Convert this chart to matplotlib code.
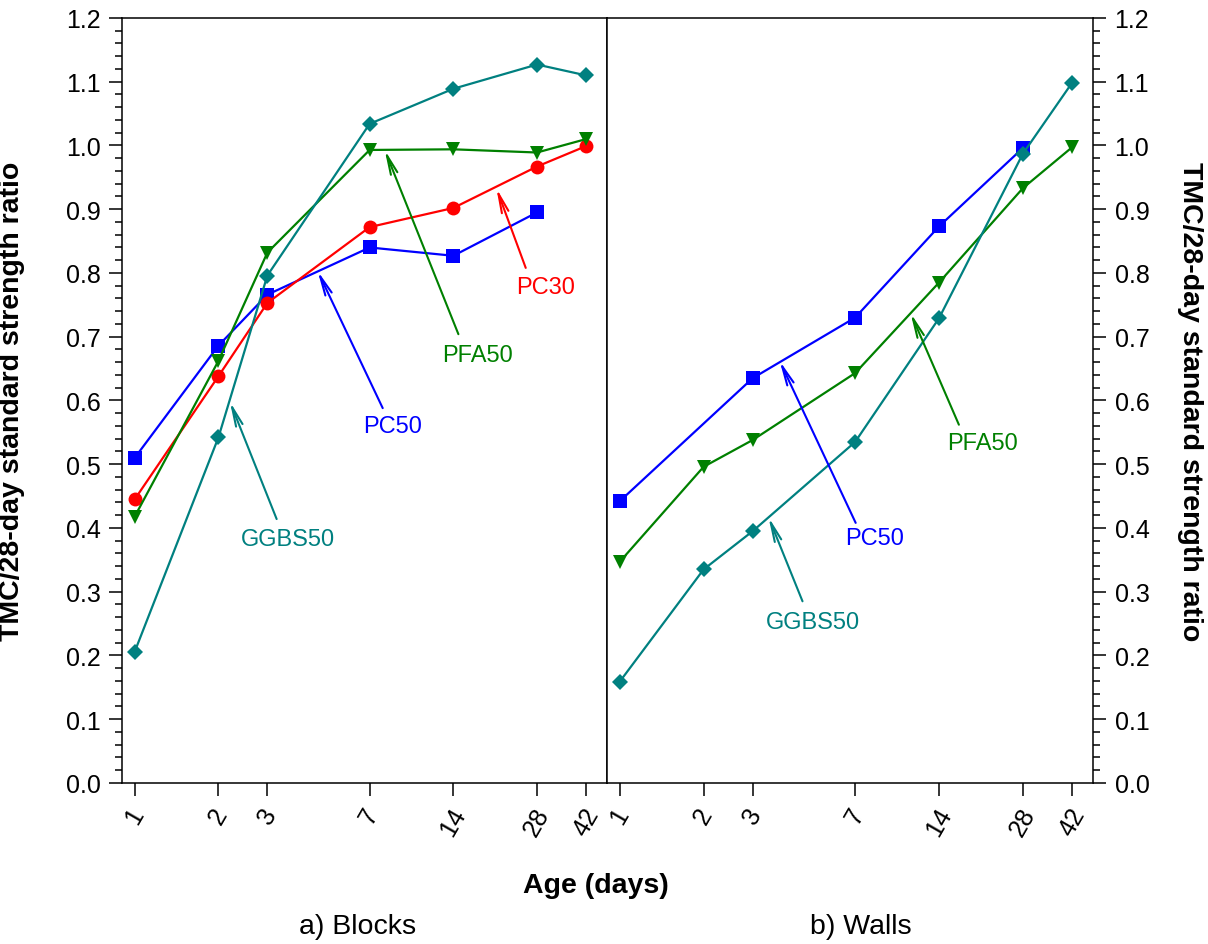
import numpy as np
import matplotlib
matplotlib.use('Agg')
import matplotlib.pyplot as plt
from matplotlib.ticker import FixedLocator, MultipleLocator, NullLocator

plt.rcParams['font.family'] = ['Liberation Sans', 'DejaVu Sans']
plt.rcParams['axes.linewidth'] = 1.1

days = [1, 2, 3, 7, 14, 28, 42]
day_labels = ['1', '2', '3', '7', '14', '28', '42']

# a) Blocks
blk_pc50_x = [1, 2, 3, 7, 14, 28]
blk_pc50 = [0.510, 0.686, 0.766, 0.840, 0.827, 0.895]
blk_pc30 = [0.445, 0.638, 0.753, 0.872, 0.902, 0.967, 0.999]
blk_pfa50 = [0.418, 0.662, 0.832, 0.993, 0.994, 0.989, 1.010]
blk_ggbs50 = [0.206, 0.542, 0.796, 1.034, 1.089, 1.127, 1.110]

# b) Walls
wal_pc50_x = [1, 3, 7, 14, 28]
wal_pc50 = [0.442, 0.635, 0.730, 0.873, 0.996]
wal_pfa50 = [0.347, 0.496, 0.538, 0.643, 0.785, 0.933, 0.997]
wal_ggbs50 = [0.159, 0.335, 0.395, 0.535, 0.729, 0.987, 1.098]

c_pc50 = '#0000ff'
c_pc30 = '#ff0000'
c_pfa = '#008000'
c_ggbs = '#008080'

fig = plt.figure(figsize=(12.08, 9.45), dpi=100)
ax1 = fig.add_axes([0.101, 0.1704, 0.4015, 0.8095])
ax2 = fig.add_axes([0.5025, 0.1704, 0.4023, 0.8095])

kw = dict(linewidth=1.6, markeredgewidth=0)
ax1.plot(blk_pc50_x, blk_pc50, color=c_pc50, marker='s', markersize=9.5, **kw)
ax1.plot(days, blk_pc30, color=c_pc30, marker='o', markersize=10, **kw)
ax1.plot(days, blk_pfa50, color=c_pfa, marker='v', markersize=10.5, **kw)
ax1.plot(days, blk_ggbs50, color=c_ggbs, marker='D', markersize=8.5, **kw)

ax2.plot(wal_pc50_x, wal_pc50, color=c_pc50, marker='s', markersize=9.5, **kw)
ax2.plot(days, wal_pfa50, color=c_pfa, marker='v', markersize=10.5, **kw)
ax2.plot(days, wal_ggbs50, color=c_ggbs, marker='D', markersize=8.5, **kw)

# label text, text pos, arrow tail, arrow tip, colour
notes1 = [('PC30', (30.0, 0.778), (25.5, 0.808), (20.0, 0.933), c_pc30),
          ('PFA50', (17.1, 0.671), (14.6, 0.704), (7.93, 0.993), c_pfa),
          ('PC50', (8.47, 0.560), (7.80, 0.588), (4.55, 0.803), c_pc50),
          ('GGBS50', (3.55, 0.383), (3.24, 0.414), (2.20, 0.598), c_ggbs)]
notes2 = [('PC50', (8.22, 0.384), (7.03, 0.408), (3.75, 0.662), c_pc50),
          ('PFA50', (20.1, 0.533), (16.5, 0.562), (11.07, 0.737), c_pfa),
          ('GGBS50', (4.92, 0.253), (4.53, 0.285), (3.42, 0.417), c_ggbs)]

for ax, notes in ((ax1, notes1), (ax2, notes2)):
    for txt, tpos, tail, tip, c in notes:
        ax.text(tpos[0], tpos[1], txt, color=c, fontsize=17, ha='center', va='center')
        ax.annotate('', xy=tip, xytext=tail,
                    arrowprops=dict(arrowstyle='->,head_length=1.4,head_width=0.25',
                                    color=c, lw=1.5, shrinkA=0, shrinkB=0))

for ax in (ax1, ax2):
    ax.set_xscale('log')
    ax.set_xlim(0.9, 50)
    ax.set_ylim(0, 1.2)
    ax.xaxis.set_major_locator(FixedLocator(days))
    ax.xaxis.set_minor_locator(NullLocator())
    ax.set_xticklabels(day_labels, rotation=60, ha='center', va='top', fontsize=18)
    ax.yaxis.set_minor_locator(MultipleLocator(0.02))
    ax.set_yticks(np.arange(0, 1.21, 0.1))
    ax.set_yticklabels(['%.1f' % v for v in np.arange(0, 1.21, 0.1)], fontsize=18)
    ax.tick_params(which='major', direction='out', length=9.5, width=1.1, pad=5)
    ax.tick_params(which='minor', direction='out', length=5, width=1.1)
    ax.tick_params(axis='y', which='major', pad=6)

ax1.tick_params(axis='y', which='both', left=True, right=False)
ax2.yaxis.tick_right()
ax2.tick_params(axis='y', which='both', left=False, right=True)

ax1.set_ylabel('TMC/28-day standard strength ratio', fontsize=20.5, fontweight='bold')
ax1.yaxis.set_label_coords(-0.2, 0.5)
ax2.yaxis.set_label_position('right')
ax2.set_ylabel('TMC/28-day standard strength ratio', fontsize=20.5, fontweight='bold',
               rotation=270, va='center')
ax2.yaxis.set_label_coords(1.2, 0.5)

fig.text(0.493, 0.0625, 'Age (days)', fontsize=20.5, fontweight='bold', ha='center', va='center')
fig.text(0.296, 0.019, 'a) Blocks', fontsize=20.5, ha='center', va='center')
fig.text(0.713, 0.019, 'b) Walls', fontsize=20.5, ha='center', va='center')

fig.savefig('out.png', dpi=100)
